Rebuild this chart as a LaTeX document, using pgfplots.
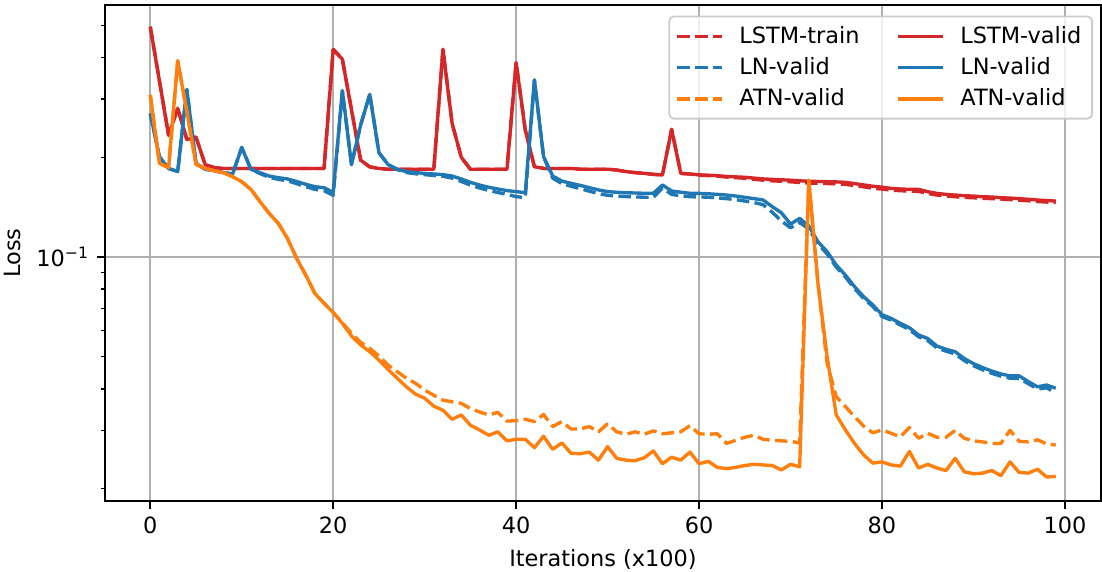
\documentclass[border=0pt]{standalone}
\usepackage{fontspec}
\setmainfont{DejaVu Sans}
\usepackage{pgfplots}
\usepackage{pgfplotstable}
\pgfplotsset{compat=1.18}
\definecolor{tabred}{HTML}{D62728}
\definecolor{tabblue}{HTML}{1F77B4}
\definecolor{taborange}{HTML}{FF7F0E}
\definecolor{gridgray}{HTML}{B0B0B0}
\definecolor{legframe}{HTML}{CCCCCC}

% columns: x, LSTM-train, LSTM-valid, LN dashed, LN solid, ATN dashed, ATN solid
\pgfplotstableread{
x lt lv nt nv at av
0 0.495 0.495 0.271 0.271 0.308 0.308
1 0.34 0.34 0.2007 0.2007 0.1918 0.1918
2 0.233 0.233 0.185 0.185 0.186 0.186
3 0.281 0.281 0.181 0.181 0.391 0.391
4 0.226 0.226 0.320 0.320 0.2744 0.2744
5 0.23 0.23 0.1918 0.1918 0.1904 0.1904
6 0.19 0.19 0.184 0.184 0.185 0.185
7 0.186 0.186 0.1822 0.1822 0.182 0.182
8 0.185 0.185 0.1797 0.1797 0.1797 0.1797
9 0.185 0.185 0.178 0.178 0.1747 0.1747
10 0.185 0.185 0.214 0.214 0.1687 0.1687
11 0.185 0.185 0.184 0.184 0.16 0.16
12 0.185 0.185 0.1785 0.1796 0.1469 0.1469
13 0.185 0.185 0.174 0.1755 0.1354 0.1354
14 0.185 0.185 0.1715 0.1735 0.1263 0.1263
15 0.185 0.185 0.1698 0.172 0.1138 0.1138
16 0.185 0.185 0.1665 0.169 0.0991 0.0991
17 0.185 0.185 0.163 0.1657 0.0882 0.0882
18 0.185 0.185 0.16 0.163 0.0777 0.0777
19 0.185 0.185 0.1585 0.1618 0.0725 0.0725
20 0.423 0.423 0.1535 0.1567 0.068 0.068
21 0.395 0.395 0.3175 0.3175 0.0633 0.0631
22 0.278 0.278 0.19 0.19 0.0589 0.0578
23 0.196 0.196 0.25 0.25 0.0553 0.0543
24 0.187 0.187 0.3095 0.3095 0.053 0.0518
25 0.185 0.185 0.2064 0.2064 0.0503 0.0489
26 0.184 0.184 0.19 0.19 0.0472 0.0458
27 0.184 0.184 0.1835 0.184 0.0451 0.0431
28 0.184 0.184 0.1798 0.181 0.0431 0.0406
29 0.184 0.184 0.1783 0.1797 0.0416 0.0386
30 0.184 0.184 0.1772 0.1788 0.0397 0.0375
31 0.184 0.184 0.1762 0.178 0.0383 0.0355
32 0.423 0.423 0.1752 0.1772 0.037 0.0345
33 0.253 0.253 0.173 0.1755 0.0366 0.0324
34 0.200 0.200 0.169 0.172 0.0362 0.0334
35 0.184 0.184 0.1648 0.168 0.0349 0.0311
36 0.184 0.184 0.1615 0.1649 0.0341 0.0301
37 0.184 0.184 0.1588 0.1623 0.0334 0.029
38 0.184 0.184 0.1565 0.1604 0.034 0.0297
39 0.184 0.184 0.1545 0.1586 0.032 0.0279
40 0.386 0.386 0.1521 0.1575 0.0321 0.0282
41 0.2416 0.2416 0.151 0.1563 0.0324 0.0282
42 0.1873 0.1873 0.342 0.342 0.0319 0.0266
43 0.185 0.185 0.2007 0.2007 0.0335 0.0288
44 0.185 0.185 0.173 0.1755 0.0308 0.0263
45 0.185 0.185 0.1665 0.1695 0.0319 0.0275
46 0.185 0.185 0.1635 0.1668 0.0303 0.0256
47 0.184 0.184 0.1608 0.1645 0.0303 0.0255
48 0.184 0.184 0.158 0.1619 0.0308 0.0258
49 0.184 0.184 0.1553 0.1594 0.0297 0.0244
50 0.184 0.184 0.1535 0.1575 0.0314 0.0268
51 0.183 0.183 0.1527 0.1568 0.0297 0.0247
52 0.181 0.181 0.1522 0.1563 0.0292 0.0244
53 0.1797 0.1797 0.1518 0.156 0.0297 0.0243
54 0.1788 0.1788 0.1515 0.1557 0.0292 0.0248
55 0.1776 0.1776 0.1513 0.1557 0.0299 0.026
56 0.1768 0.1768 0.1615 0.1649 0.0293 0.0238
57 0.2427 0.2427 0.1545 0.1582 0.0295 0.0249
58 0.1788 0.1788 0.153 0.1568 0.0297 0.0244
59 0.178 0.178 0.152 0.1557 0.031 0.0258
60 0.1765 0.177 0.1518 0.1556 0.0293 0.0238
61 0.176 0.1765 0.1515 0.1552 0.0292 0.0242
62 0.1753 0.176 0.1508 0.1545 0.0293 0.0232
63 0.1743 0.175 0.15 0.1538 0.0274 0.023
64 0.1735 0.1745 0.149 0.1528 0.028 0.0232
65 0.1728 0.174 0.1475 0.1514 0.0286 0.0235
66 0.1716 0.173 0.146 0.15 0.029 0.0237
67 0.1705 0.172 0.1438 0.1486 0.0282 0.0236
68 0.1698 0.1715 0.1365 0.1419 0.028 0.0235
69 0.1692 0.171 0.1285 0.136 0.0279 0.0228
70 0.1686 0.1705 0.1225 0.1257 0.0278 0.0237
71 0.1678 0.1698 0.127 0.1308 0.0275 0.0233
72 0.1672 0.1692 0.1215 0.124 0.17 0.1707
73 0.1669 0.169 0.1095 0.1112 0.0833 0.0833
74 0.1666 0.1688 0.1022 0.1038 0.0478 0.0501
75 0.1662 0.1685 0.0932 0.0946 0.0379 0.0334
76 0.1657 0.168 0.0871 0.0882 0.0354 0.0301
77 0.1642 0.1665 0.0803 0.0814 0.033 0.0274
78 0.1628 0.165 0.075 0.0759 0.0309 0.0253
79 0.1613 0.1635 0.0709 0.0717 0.0295 0.0239
80 0.1603 0.1625 0.0662 0.067 0.0301 0.0241
81 0.1591 0.1611 0.0645 0.0653 0.0294 0.0236
82 0.1585 0.1604 0.0624 0.0631 0.0287 0.0234
83 0.158 0.16 0.0604 0.0612 0.0306 0.0259
84 0.1578 0.16 0.0575 0.0582 0.0284 0.0231
85 0.1555 0.1574 0.056 0.0568 0.0294 0.0237
86 0.1538 0.1556 0.0532 0.0539 0.0286 0.0231
87 0.1527 0.1545 0.052 0.0527 0.0286 0.0227
88 0.152 0.1538 0.051 0.0518 0.03 0.0247
89 0.1513 0.1531 0.0487 0.0494 0.0284 0.0225
90 0.1509 0.1527 0.047 0.0477 0.0279 0.0222
91 0.1503 0.152 0.0457 0.0464 0.0277 0.0223
92 0.15 0.1517 0.0446 0.0453 0.0274 0.0227
93 0.1494 0.151 0.0437 0.0444 0.0274 0.0219
94 0.149 0.1506 0.0431 0.0438 0.03 0.0241
95 0.1484 0.15 0.043 0.0438 0.0278 0.0224
96 0.1478 0.1493 0.0415 0.0421 0.0277 0.0223
97 0.147 0.1486 0.04 0.0406 0.0281 0.0229
98 0.1465 0.148 0.0403 0.0411 0.0273 0.0217
99 0.1459 0.1475 0.039 0.0402 0.0271 0.0218
}\losstable

\begin{document}
\begin{tikzpicture}
\path[use as bounding box] (-46.83pt,-31.22pt) rectangle (444.66pt,223.45pt);
\begin{axis}[
  at={(0pt,0pt)}, anchor=south west,
  scale only axis,
  width=444.22pt, height=221.22pt,
  ymode=log,
  xmin=-4.95, xmax=103.95,
  ymin=0.01837, ymax=0.5756,
  xtick={0,20,40,60,80,100},
  ytick={0.1},
  yticklabels={10\textsuperscript{−1}},
  minor ytick={0.02,0.03,0.04,0.05,0.06,0.07,0.08,0.09,0.2,0.3,0.4,0.5},
  /pgf/number format/assume math mode=true,
  tick label style={font=\fontsize{10}{12}\selectfont},
  label style={font=\fontsize{10}{12}\selectfont},
  xlabel={Iterations (x100)},
  ylabel={Loss},
  tick align=outside,
  tick pos=left,
  major tick length=3.5pt,
  minor tick length=2pt,
  every major tick/.style={line width=0.8pt,black},
  every minor tick/.style={line width=0.6pt,black},
  axis line style={line width=0.8pt},
  grid=major,
  major grid style={gridgray,line width=0.8pt},
  minor grid style={draw=none},
  legend columns=2,
  legend cell align=left,
  legend image code/.code={\draw[#1] (0pt,0pt) -- (20pt,0pt); \path (25pt,0pt);},
  legend style={at={(1,1)}, anchor=north east, xshift=-3.57pt, yshift=-4.77pt,
    draw=legframe, line width=0.8pt, rounded corners=2pt,
    fill=white, fill opacity=0.8, draw opacity=1, text opacity=1,
    font=\fontsize{10}{12}\selectfont,
    row sep=0.9pt, inner xsep=2.8pt, inner ysep=2.2pt,
    /tikz/every even column/.append style={column sep=14.5pt}},
  every axis plot/.append style={line width=1.5pt, line join=round},
]
\addplot[tabred, dash pattern=on 5.55pt off 2.4pt] table[x=x,y=lt] {\losstable};
\addlegendentry{LSTM-train}
\addplot[tabred] table[x=x,y=lv] {\losstable};
\addlegendentry{LSTM-valid}
\addplot[tabblue, dash pattern=on 5.55pt off 2.4pt] table[x=x,y=nt] {\losstable};
\addlegendentry{LN-valid}
\addplot[tabblue] table[x=x,y=nv] {\losstable};
\addlegendentry{LN-valid}
\addplot[taborange, dash pattern=on 5.55pt off 2.4pt] table[x=x,y=at] {\losstable};
\addlegendentry{ATN-valid}
\addplot[taborange] table[x=x,y=av] {\losstable};
\addlegendentry{ATN-valid}
\end{axis}
\end{tikzpicture}
\end{document}
